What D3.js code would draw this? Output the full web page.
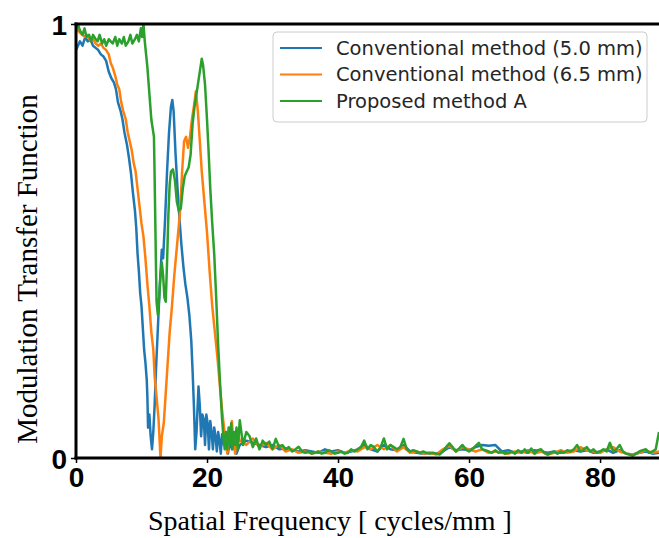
<!DOCTYPE html>
<html>
<head>
<meta charset="utf-8">
<script src="https://cdn.jsdelivr.net/npm/d3@7"></script>
<style>
  html, body { margin: 0; padding: 0; background: #fff; }
  svg { display: block; }
</style>
</head>
<body>
<svg id="chart" width="659" height="538"></svg>
<script>
// ---------- data ----------
const seriesNames = ["Conventional method (5.0 mm)", "Conventional method (6.5 mm)", "Proposed method A"];
const seriesColors = ["#1f77b4", "#ff7f0e", "#2ca02c"];
const xTickValues = [0, 20, 40, 60, 80];
const yTickValues = [0, 1];
const xLabel = "Spatial Frequency [ cycles/mm ]";
const yLabel = "Modulation Transfer Function";

// [frequency (cycles/mm), MTF]
const blueMain = [[0,0.94],[0.3,0.95],[0.6,0.96],[1,0.95],[1.4,0.97],[1.8,0.96],[2.2,0.965],[2.6,0.95],[3.0,0.945],[3.4,0.94],[3.8,0.93],[4.2,0.925],[4.6,0.915],[5.0,0.89],[5.4,0.875],[5.8,0.865],[6.1,0.85],[6.4,0.82],[6.8,0.80],[7.1,0.78],[7.4,0.75],[7.8,0.72],[8.1,0.69],[8.4,0.655],[8.7,0.61],[9.0,0.57],[9.2,0.53],[9.4,0.47],[9.6,0.43],[9.8,0.38],[10.0,0.35],[10.2,0.30],[10.4,0.25],[10.6,0.22],[10.8,0.18],[10.9,0.14],[11.0,0.07],[11.2,0.10],[11.4,0.05],[11.6,0.02],[11.8,0.06],[12.0,0.12],[12.2,0.2],[12.5,0.3],[12.8,0.4],[13.1,0.48],[13.3,0.46],[13.6,0.55],[13.9,0.66],[14.2,0.75],[14.5,0.81],[14.7,0.825],[14.9,0.8],[15.2,0.7],[15.5,0.62],[15.8,0.55],[16.1,0.49],[16.4,0.44],[16.7,0.40],[17.0,0.37],[17.3,0.33],[17.6,0.27],[17.8,0.2],[18.0,0.12],[18.2,0.02],[18.4,0.06],[18.7,0.165],[18.9,0.12],[19.1,0.05],[19.3,0.1],[19.5,0.09],[19.7,0.03],[19.9,0.1],[20.1,0.08],[20.3,0.02],[20.5,0.085],[20.7,0.06],[20.9,0.02],[21.1,0.07],[21.3,0.05],[21.5,0.015],[21.7,0.06],[21.9,0.04],[22.1,0.01],[22.3,0.055],[22.6,0.03],[22.9,0.045],[23.2,0.01],[23.5,0.04],[23.8,0.02],[24.1,0.035],[24.5,0.01]];
const blueTail = [[25,0.03],[26,0.04],[27,0.035],[28,0.03],[29,0.025],[30,0.03],[31,0.02],[32,0.022],[33,0.018],[34,0.015],[35,0.018],[36,0.015],[37,0.012],[38,0.02],[39,0.015],[40,0.018],[41,0.012],[42,0.015],[43,0.02],[44,0.03],[45,0.02],[46,0.015],[47,0.03],[48,0.02],[49,0.018],[50,0.03],[51,0.015],[52,0.012],[53,0.01],[54,0.012],[55,0.01],[56,0.015],[57,0.025],[58,0.018],[59,0.02],[60,0.018],[61,0.025],[62,0.03],[63,0.028],[64,0.03],[65,0.015],[66,0.018],[67,0.012],[68,0.015],[69,0.012],[70,0.018],[71,0.015],[72,0.012],[73,0.015],[74,0.012],[75,0.015],[76,0.018],[77,0.015],[78,0.018],[79,0.012],[80,0.015],[81,0.02],[82,0.012],[83,0.018],[84,0.01],[85,0.008],[86,0.012],[87,0.015],[88,0.01],[89,0.012]];

const orangeMain = [[0,0.99],[0.3,0.985],[0.6,0.98],[1,0.975],[1.4,0.97],[1.8,0.975],[2.2,0.96],[2.6,0.965],[3.0,0.955],[3.4,0.95],[3.8,0.955],[4.2,0.945],[4.6,0.94],[5.0,0.93],[5.3,0.91],[5.6,0.9],[6.0,0.88],[6.3,0.86],[6.6,0.85],[6.9,0.82],[7.2,0.80],[7.6,0.78],[7.9,0.75],[8.2,0.73],[8.5,0.71],[8.8,0.68],[9.1,0.66],[9.4,0.62],[9.7,0.58],[10.0,0.54],[10.3,0.51],[10.6,0.46],[10.9,0.40],[11.2,0.35],[11.5,0.29],[11.8,0.25],[12.0,0.19],[12.3,0.14],[12.6,0.09],[12.8,0.03],[12.9,0.0],[13.1,0.05],[13.4,0.08],[13.7,0.15],[14.0,0.22],[14.3,0.29],[14.6,0.34],[15.0,0.42],[15.3,0.47],[15.6,0.52],[15.9,0.57],[16.2,0.66],[16.5,0.73],[16.8,0.74],[17.1,0.715],[17.4,0.74],[17.7,0.78],[18.0,0.81],[18.3,0.845],[18.6,0.80],[18.9,0.73],[19.2,0.66],[19.6,0.59],[20.0,0.52],[20.4,0.43],[20.8,0.35],[21.2,0.29],[21.6,0.23],[22.0,0.16],[22.3,0.11],[22.6,0.07],[22.9,0.03],[23.1,0.01],[23.4,0.05],[23.8,0.085],[24.0,0.04],[24.3,0.01],[24.6,0.06]];
const orangeTail = [[25,0.04],[26,0.03],[27,0.045],[28,0.025],[29,0.035],[30,0.02],[31,0.03],[32,0.015],[33,0.02],[34,0.012],[35,0.015],[36,0.01],[37,0.015],[38,0.012],[39,0.01],[40,0.015],[41,0.012],[42,0.018],[43,0.015],[44,0.025],[45,0.02],[46,0.03],[47,0.02],[48,0.03],[49,0.015],[50,0.025],[51,0.012],[52,0.015],[53,0.01],[54,0.012],[55,0.008],[56,0.02],[57,0.028],[58,0.015],[59,0.025],[60,0.02],[61,0.015],[62,0.02],[63,0.012],[64,0.015],[65,0.012],[66,0.01],[67,0.015],[68,0.012],[69,0.018],[70,0.01],[71,0.015],[72,0.008],[73,0.012],[74,0.018],[75,0.012],[76,0.015],[77,0.025],[78,0.018],[79,0.015],[80,0.012],[81,0.02],[82,0.025],[83,0.015],[84,0.01],[85,0.008],[86,0.012],[87,0.018],[88,0.012],[89,0.015]];

const greenMain = [[0,0.99],[0.3,1.0],[0.6,0.985],[1.0,0.975],[1.3,0.99],[1.6,0.97],[2.0,0.975],[2.3,0.96],[2.6,0.975],[3.0,0.965],[3.3,0.96],[3.6,0.975],[4.0,0.955],[4.3,0.965],[4.6,0.95],[5.0,0.965],[5.3,0.96],[5.6,0.955],[6.0,0.97],[6.3,0.95],[6.6,0.965],[7.0,0.955],[7.3,0.97],[7.6,0.95],[8.0,0.96],[8.3,0.975],[8.6,0.955],[9.0,0.965],[9.3,0.975],[9.6,0.96],[9.9,0.99],[10.1,0.97],[10.3,1.0],[10.5,0.96],[10.7,0.93],[10.9,0.90],[11.1,0.86],[11.3,0.82],[11.5,0.78],[11.7,0.76],[11.9,0.74],[12.0,0.65],[12.1,0.55],[12.2,0.45],[12.3,0.36],[12.5,0.33],[12.7,0.37],[12.9,0.42],[13.1,0.45],[13.3,0.42],[13.5,0.37],[13.7,0.36],[13.9,0.45],[14.1,0.56],[14.3,0.63],[14.5,0.66],[14.8,0.665],[15.1,0.64],[15.4,0.59],[15.7,0.57],[16.0,0.575],[16.3,0.62],[16.6,0.65],[16.9,0.66],[17.2,0.67],[17.5,0.70],[17.8,0.77],[18.1,0.81],[18.4,0.84],[18.7,0.87],[19.0,0.9],[19.2,0.92],[19.4,0.905],[19.7,0.86],[20.0,0.78],[20.2,0.72],[20.5,0.62],[20.8,0.54],[21.1,0.47],[21.4,0.37],[21.7,0.26],[22.0,0.17],[22.3,0.09],[22.5,0.05],[22.7,0.02],[22.9,0.06],[23.1,0.02],[23.3,0.07],[23.5,0.03],[23.7,0.08],[23.9,0.02],[24.1,0.06],[24.3,0.03],[24.5,0.07],[24.7,0.02]];
const greenTail = [[25,0.087],[25.5,0.03],[26,0.06],[26.5,0.05],[27,0.025],[27.5,0.045],[28,0.02],[28.5,0.04],[29,0.03],[29.5,0.038],[30,0.02],[30.5,0.044],[31,0.025],[31.5,0.03],[32,0.02],[32.5,0.025],[33,0.015],[33.5,0.02],[34,0.026],[34.5,0.015],[35,0.012],[35.5,0.015],[36,0.01],[36.5,0.012],[37,0.015],[37.5,0.01],[38,0.012],[38.5,0.018],[39,0.015],[39.5,0.01],[40,0.012],[40.5,0.015],[41,0.01],[41.5,0.012],[42,0.02],[42.5,0.015],[43,0.02],[43.5,0.025],[44,0.04],[44.5,0.02],[45,0.03],[45.5,0.025],[46,0.015],[46.5,0.025],[47,0.045],[47.5,0.02],[48,0.03],[48.5,0.025],[49,0.02],[49.5,0.025],[50,0.044],[50.5,0.02],[51,0.015],[51.5,0.018],[52,0.015],[52.5,0.012],[53,0.015],[53.5,0.012],[54,0.01],[54.5,0.012],[55,0.01],[55.5,0.008],[56,0.015],[56.5,0.025],[57,0.034],[57.5,0.025],[58,0.015],[58.5,0.022],[59,0.03],[59.5,0.02],[60,0.015],[60.5,0.02],[61,0.028],[61.5,0.035],[62,0.02],[62.5,0.018],[63,0.015],[63.5,0.012],[64,0.018],[64.5,0.012],[65,0.015],[65.5,0.01],[66,0.012],[66.5,0.015],[67,0.01],[67.5,0.018],[68,0.012],[68.5,0.02],[69,0.012],[69.5,0.022],[70,0.01],[70.5,0.018],[71,0.02],[71.5,0.012],[72,0.008],[72.5,0.012],[73,0.015],[73.5,0.01],[74,0.015],[74.5,0.012],[75,0.018],[75.5,0.015],[76,0.02],[76.5,0.03],[77,0.015],[77.5,0.02],[78,0.025],[78.5,0.015],[79,0.02],[79.5,0.012],[80,0.015],[80.5,0.02],[81,0.015],[81.5,0.035],[82,0.015],[82.5,0.02],[83,0.03],[83.5,0.015],[84,0.01],[84.5,0.008],[85,0.005],[85.5,0.01],[86,0.015],[86.5,0.018],[87,0.02],[87.5,0.012],[88,0.015],[88.5,0.02],[89,0.06]];

const seriesData = [blueMain.concat(blueTail), orangeMain.concat(orangeTail), greenMain.concat(greenTail)];

// ---------- layout ----------
const svg = d3.select("#chart");
const mLeft = 76, mRight = 659, mTop = 24, mBottom = 458;

const x = d3.scaleLinear().domain([0, 89]).range([mLeft, mRight]);
const y = d3.scaleLinear().domain([0, 1]).range([mBottom, mTop]);

svg.append("defs").append("clipPath").attr("id", "clip")
  .append("rect").attr("x", mLeft).attr("y", mTop - 1).attr("width", mRight - mLeft).attr("height", mBottom - mTop + 1);

const line = d3.line().x(d => x(d[0])).y(d => y(d[1]));

const lines = svg.append("g").attr("clip-path", "url(#clip)");
seriesData.forEach((s, i) => {
  lines.append("path").datum(s)
    .attr("d", line)
    .attr("fill", "none")
    .attr("stroke", seriesColors[i])
    .attr("stroke-width", 2.5)
    .attr("stroke-linejoin", "round");
});

// axes
const xAxis = svg.append("g").attr("transform", `translate(0,${mBottom})`)
  .call(d3.axisBottom(x).tickValues(xTickValues).tickFormat(d3.format("d")).tickSize(5).tickPadding(4));
const yAxis = svg.append("g").attr("transform", `translate(${mLeft},0)`)
  .call(d3.axisLeft(y).tickValues(yTickValues).tickFormat(d3.format("d")).tickSize(5).tickPadding(4));

[xAxis, yAxis].forEach(a => {
  a.select(".domain").remove();
  a.selectAll(".tick line").attr("stroke", "#000").attr("stroke-width", 1.5);
  a.selectAll(".tick text")
    .attr("fill", "#000")
    .style("font-family", "'Liberation Sans', Arial, sans-serif")
    .style("font-weight", "bold")
    .style("font-size", "28px");
});
yAxis.selectAll(".tick text").attr("dy", "0.36em");

// spines
const sp = svg.append("g").attr("stroke", "#000").attr("stroke-width", 3);
sp.append("line").attr("x1", mLeft).attr("x2", mLeft).attr("y1", mTop - 1.5).attr("y2", mBottom + 1.5);
sp.append("line").attr("x1", mLeft - 1.5).attr("x2", mRight).attr("y1", mBottom).attr("y2", mBottom);
sp.append("line").attr("x1", mLeft - 1.5).attr("x2", mRight).attr("y1", mTop).attr("y2", mTop);

// axis labels
svg.append("text")
  .attr("x", 330).attr("y", 530)
  .attr("text-anchor", "middle")
  .style("font-family", "'Liberation Serif', 'Times New Roman', serif")
  .style("font-size", "28px")
  .attr("fill", "#000")
  .text(xLabel);

svg.append("text")
  .attr("transform", `translate(37,269) rotate(-90)`)
  .attr("text-anchor", "middle")
  .style("font-family", "'Liberation Serif', 'Times New Roman', serif")
  .style("font-size", "29px")
  .attr("fill", "#000")
  .text(yLabel);

// legend
const lg = svg.append("g");
lg.append("rect")
  .attr("x", 273).attr("y", 32).attr("width", 374).attr("height", 90)
  .attr("rx", 4).attr("ry", 4)
  .attr("fill", "#fff").attr("fill-opacity", 0.8)
  .attr("stroke", "#cccccc").attr("stroke-width", 1);
seriesNames.forEach((name, i) => {
  const cy = 48 + i * 26.5;
  lg.append("line")
    .attr("x1", 280).attr("x2", 322).attr("y1", cy).attr("y2", cy)
    .attr("stroke", seriesColors[i]).attr("stroke-width", 2.2);
  lg.append("text")
    .attr("x", 336).attr("y", cy).attr("dy", "0.35em")
    .style("font-family", "'DejaVu Sans', sans-serif")
    .style("font-size", "19.5px")
    .attr("fill", "#262626")
    .text(name);
});
</script>
</body>
</html>
